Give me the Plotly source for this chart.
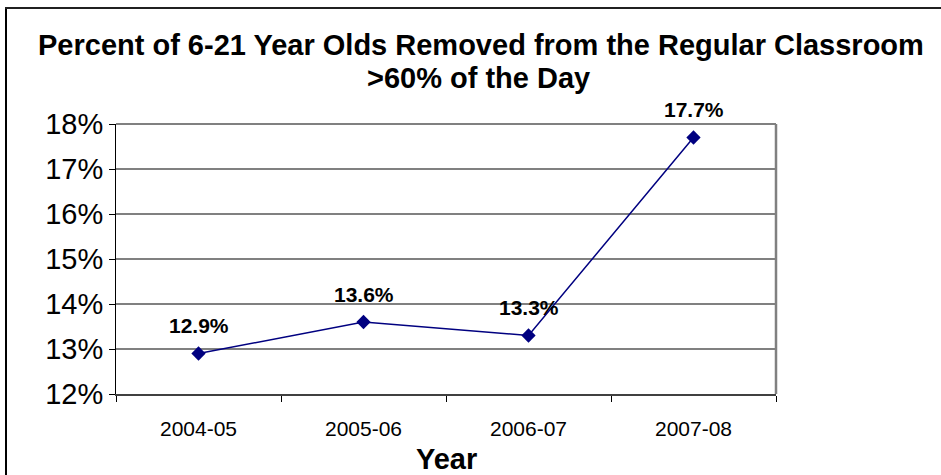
import plotly.graph_objects as go

# School years and share of students removed >60% of the day
years = ["2004-05", "2005-06", "2006-07", "2007-08"]
pct_removed = [12.9, 13.6, 13.3, 17.7]
y_ticks = [12, 13, 14, 15, 16, 17, 18]
y_tick_labels = [f"{v}%" for v in y_ticks]

title_line1 = "Percent of 6-21 Year Olds Removed from the Regular Classroom"
title_line2 = ">60% of the Day"

W, H = 941, 475
L, R, T, B = 116, 165, 124, 81
pw, ph = W - L - R, H - T - B


def px_x(x):
    return (x - L) / pw


def px_y(y):
    return (H - B - y) / ph


FONT = "Liberation Sans, Arial"

fig = go.Figure()
fig.add_trace(go.Scatter(
    x=years,
    y=pct_removed,
    mode="lines+markers",
    line=dict(color="#000080", width=1.5),
    marker=dict(symbol="diamond", size=11, color="#000080"),
    hoverinfo="skip",
    cliponaxis=False,
))

annotations = []
for yr, v in zip(years, pct_removed):
    annotations.append(dict(
        x=yr, y=v, xref="x", yref="y",
        text=f"<b>{v:.1f}%</b>", showarrow=False,
        xanchor="center", yanchor="middle",
        yshift=28, font=dict(family=FONT, size=21, color="black"),
    ))

annotations += [
    dict(x=px_x(481), y=px_y(45), xref="paper", yref="paper", text=f"<b>{title_line1}</b>",
         showarrow=False, xanchor="center", yanchor="middle",
         font=dict(family=FONT, size=29, color="black")),
    dict(x=px_x(478), y=px_y(78), xref="paper", yref="paper", text=f"<b>{title_line2}</b>",
         showarrow=False, xanchor="center", yanchor="middle",
         font=dict(family=FONT, size=29, color="black")),
    dict(x=px_x(446), y=px_y(459), xref="paper", yref="paper", text="<b>Year</b>",
         showarrow=False, xanchor="center", yanchor="middle",
         font=dict(family=FONT, size=29, color="black")),
]

shapes = [
    # outer chart frame: left and top edges (the rest runs off the canvas)
    dict(type="line", xref="paper", yref="paper",
         x0=px_x(6), x1=px_x(6), y0=px_y(H + 20), y1=px_y(8),
         line=dict(color="black", width=2), layer="below"),
    dict(type="line", xref="paper", yref="paper",
         x0=px_x(5), x1=px_x(W + 20), y0=px_y(8), y1=px_y(8),
         line=dict(color="#202020", width=2), layer="below"),
    # plot-area border on top and right
    dict(type="line", xref="paper", yref="paper", x0=0, x1=1, y0=1, y1=1,
         line=dict(color="#808080", width=2), layer="above"),
    dict(type="line", xref="paper", yref="paper", x0=1, x1=1, y0=0, y1=1,
         line=dict(color="#808080", width=2.5), layer="above"),
]

fig.update_layout(
    width=W, height=H,
    margin=dict(l=L, r=R, t=T, b=B, pad=0),
    paper_bgcolor="white", plot_bgcolor="white",
    showlegend=False,
    font=dict(family=FONT, color="black"),
    annotations=annotations,
    shapes=shapes,
)

fig.update_xaxes(
    type="category", range=[-0.5, 3.5],
    showgrid=False, zeroline=False,
    showline=True, linecolor="#404040", linewidth=2,
    ticks="outside", tickson="boundaries", ticklen=6, tickcolor="black", tickwidth=1,
    ticklabelstandoff=15,
    tickfont=dict(size=21, family=FONT),
)

fig.update_yaxes(
    range=[12, 18], tickvals=y_ticks, ticktext=y_tick_labels,
    showgrid=True, gridcolor="#808080", gridwidth=1.5,
    zeroline=False,
    showline=True, linecolor="black", linewidth=1,
    ticks="outside", ticklen=6, tickcolor="black", tickwidth=1,
    tickfont=dict(size=29, family=FONT),
)

fig.write_html(
    "out.html",
    config={"displayModeBar": False},
    post_script=["document.body.style.margin='0';document.body.style.overflow='hidden';"
                 "document.documentElement.style.overflow='hidden';"],
)
